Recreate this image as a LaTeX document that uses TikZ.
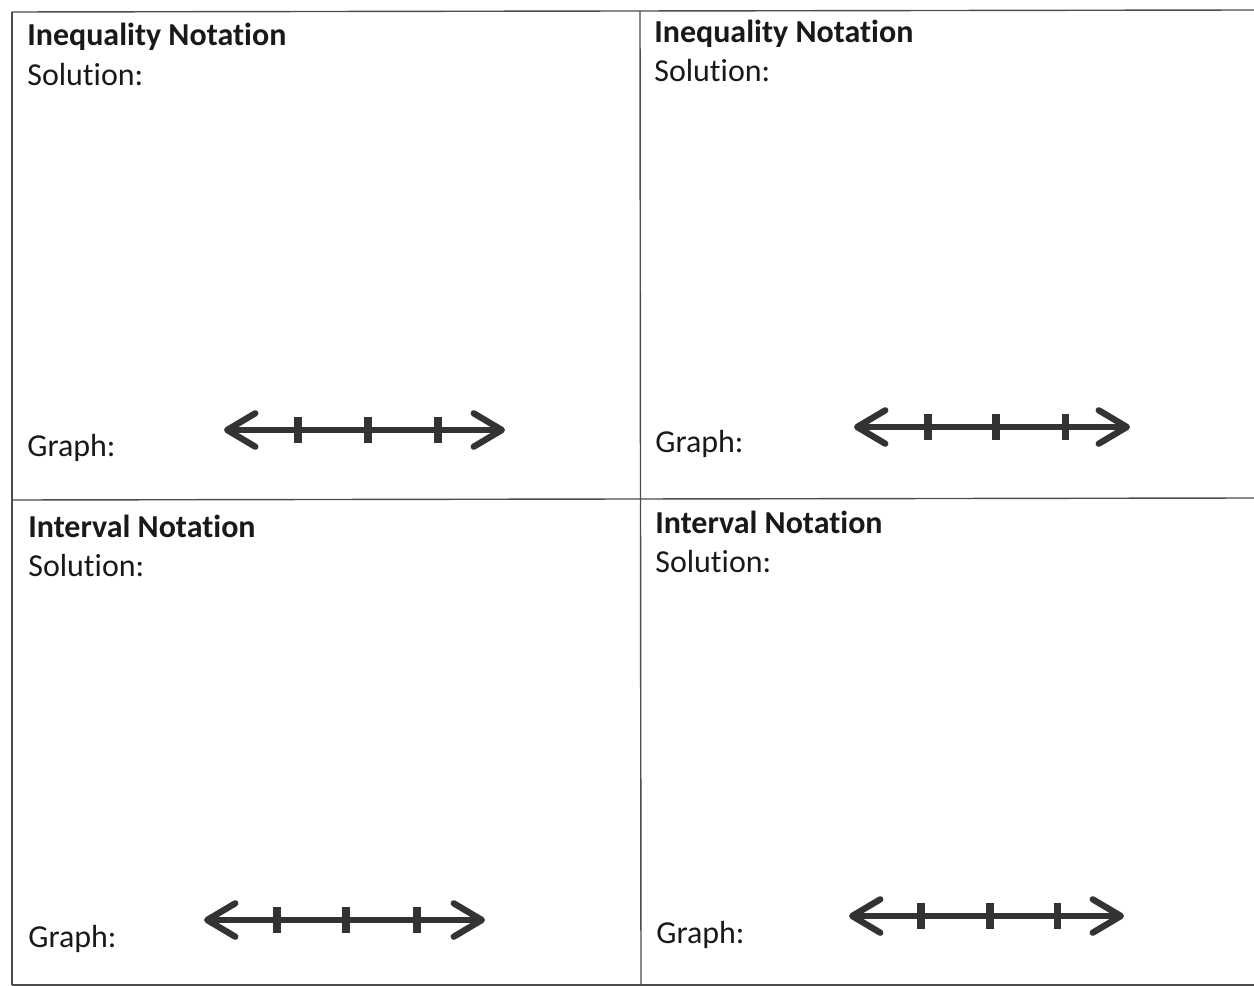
\documentclass[tikz,border=0pt]{standalone}
\usepackage{fontspec}
\setmainfont{Carlito}[Ligatures=NoCommon]
\usetikzlibrary{arrows.meta}

\begin{document}
\begin{tikzpicture}[
  x=0.02cm, y=-0.02cm,
  font=\fontsize{18.2}{22}\selectfont,
  rule/.style={draw=black!70, line width=0.8pt},
  heading/.style={anchor=base west, inner sep=0pt, font=\fontsize{18.2}{22}\selectfont\bfseries, text=black!90},
  field/.style={anchor=base west, inner sep=0pt, text=black!90},
  numline/.style={draw=black!80, line width=3.6pt, {Straight Barb[round,length=16pt,width=19pt]}-{Straight Barb[round,length=16pt,width=19pt]}},
  notch/.style={draw=black!80, line width=4pt}
]
\useasboundingbox (0,0) rectangle (1254,986);
% Frame
\draw[rule] (12,12) -- (1254,10);
\draw[rule] (12,12) -- (12,985);
\draw[rule] (12,500) -- (1254,498);
\draw[rule] (640,11) -- (641,985);
\draw[rule] (12,985) -- (1254,985);
% Top left
\node[heading] (ineqA) at (27,46) {Inequality Notation};
\node[field] (solA) at (27,86) {Solution:};
\node[field] (graphA) at (27,456) {Graph:};
\coordinate (lA) at (224,430);
\coordinate (rA) at (505,430);
\draw[numline] (lA) -- (rA);
\foreach \x in {298,368,438}
  \draw[notch] (\x,417) -- (\x,443);
% Top right
\node[heading] (ineqB) at (654,43) {Inequality Notation};
\node[field] (solB) at (654,82) {Solution:};
\node[field] (graphB) at (655,452) {Graph:};
\coordinate (lB) at (854,427);
\coordinate (rB) at (1130,427);
\draw[numline] (lB) -- (rB);
\foreach \x in {928,996,1065}
  \draw[notch] (\x,414) -- (\x,440);
% Bottom left
\node[heading] (intA) at (28,537) {Interval Notation};
\node[field] (solC) at (28,576) {Solution:};
\node[field] (graphC) at (28,947) {Graph:};
\coordinate (lC) at (204,920);
\coordinate (rC) at (485,920);
\draw[numline] (lC) -- (rC);
\foreach \x in {277,346,417}
  \draw[notch] (\x,907) -- (\x,933);
% Bottom right
\node[heading] (intB) at (655,533) {Interval Notation};
\node[field] (solD) at (655,572) {Solution:};
\node[field] (graphD) at (656,943) {Graph:};
\coordinate (lD) at (849,916);
\coordinate (rD) at (1124,916);
\draw[numline] (lD) -- (rD);
\foreach \x in {921,990,1057}
  \draw[notch] (\x,903) -- (\x,929);
\end{tikzpicture}
\end{document}
